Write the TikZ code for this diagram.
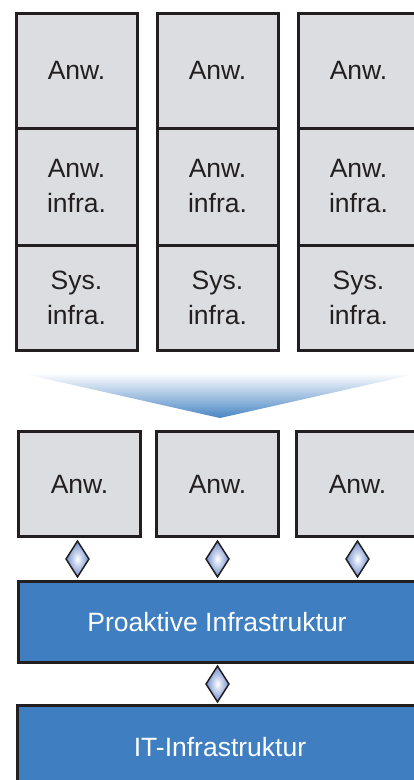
\documentclass[tikz,border=0pt]{standalone}
\usepackage{fontspec}
\setmainfont{Liberation Sans}
\usetikzlibrary{shapes.geometric,calc}

\definecolor{boxgray}{HTML}{DCDDE0}
\definecolor{infrablue}{HTML}{3F7FC1}
\definecolor{edgeblack}{HTML}{231F20}
\definecolor{diamondblue}{HTML}{6F8DCF}

\begin{document}
\begin{tikzpicture}[x=1pt, y=-1pt,
		cell/.style={draw=edgeblack, line width=3pt, fill=boxgray, text=edgeblack, minimum width=121pt, align=center, inner sep=0pt, font=\fontsize{26.5}{35}\selectfont},
		layer/.style={draw=edgeblack, line width=3pt, fill=infrablue, text=white, minimum height=81pt, inner sep=0pt, font=\fontsize{26.5}{35}\selectfont},
		link/.style={diamond, draw=edgeblack, line width=1.5pt, inner color=white, outer color=diamondblue, minimum width=23.5pt, minimum height=36.5pt, inner sep=0pt}]
		\useasboundingbox (0,0) rectangle (414,780);
		\clip (0,0) rectangle (414,780);

		\node[cell, minimum height=114.5pt] (app-a) at (76.5,70.75) {Anw.};
		\node[cell, minimum height=117pt] (ainf-a) at (76.5,186.5) {Anw.\\infra.};
		\node[cell, minimum height=105.5pt] (sinf-a) at (76.5,297.75) {Sys.\\infra.};
		\node[cell, minimum height=114.5pt] (app-b) at (217.5,70.75) {Anw.};
		\node[cell, minimum height=117pt] (ainf-b) at (217.5,186.5) {Anw.\\infra.};
		\node[cell, minimum height=105.5pt] (sinf-b) at (217.5,297.75) {Sys.\\infra.};
		\node[cell, minimum height=114.5pt] (app-c) at (358.5,70.75) {Anw.};
		\node[cell, minimum height=117pt] (ainf-c) at (358.5,186.5) {Anw.\\infra.};
		\node[cell, minimum height=105.5pt] (sinf-c) at (358.5,297.75) {Sys.\\infra.};

		\shade[top color=white, bottom color=infrablue!95!white] (20,373) -- (420,373) -- (220,418) -- cycle;

		\node[cell, minimum width=122pt, minimum height=105pt] (box-a) at (79.5,484) {Anw.};
		\node[cell, minimum width=122pt, minimum height=105pt] (box-b) at (217.5,484) {Anw.};
		\node[cell, minimum width=122pt, minimum height=105pt] (box-c) at (357.5,484) {Anw.};

		\node[layer, minimum width=397pt] (pro) at (217,622) {Proaktive Infrastruktur};
		\node[layer, minimum width=405pt, minimum height=84pt] (it) at (220,747.5) {IT-Infrastruktur};

		\node[link] (j-a) at ($(box-a.south)!0.5!(box-a.south |- pro.north) + (-2,0)$) {};
		\node[link] (j-b) at ($(box-b.south)!0.5!(box-b.south |- pro.north)$) {};
		\node[link] (j-c) at ($(box-c.south)!0.5!(box-c.south |- pro.north)$) {};
		\node[link] (j-it) at ($(pro.south -| box-b.south)!0.5!(it.north -| box-b.south)$) {};
	\end{tikzpicture}
\end{document}
